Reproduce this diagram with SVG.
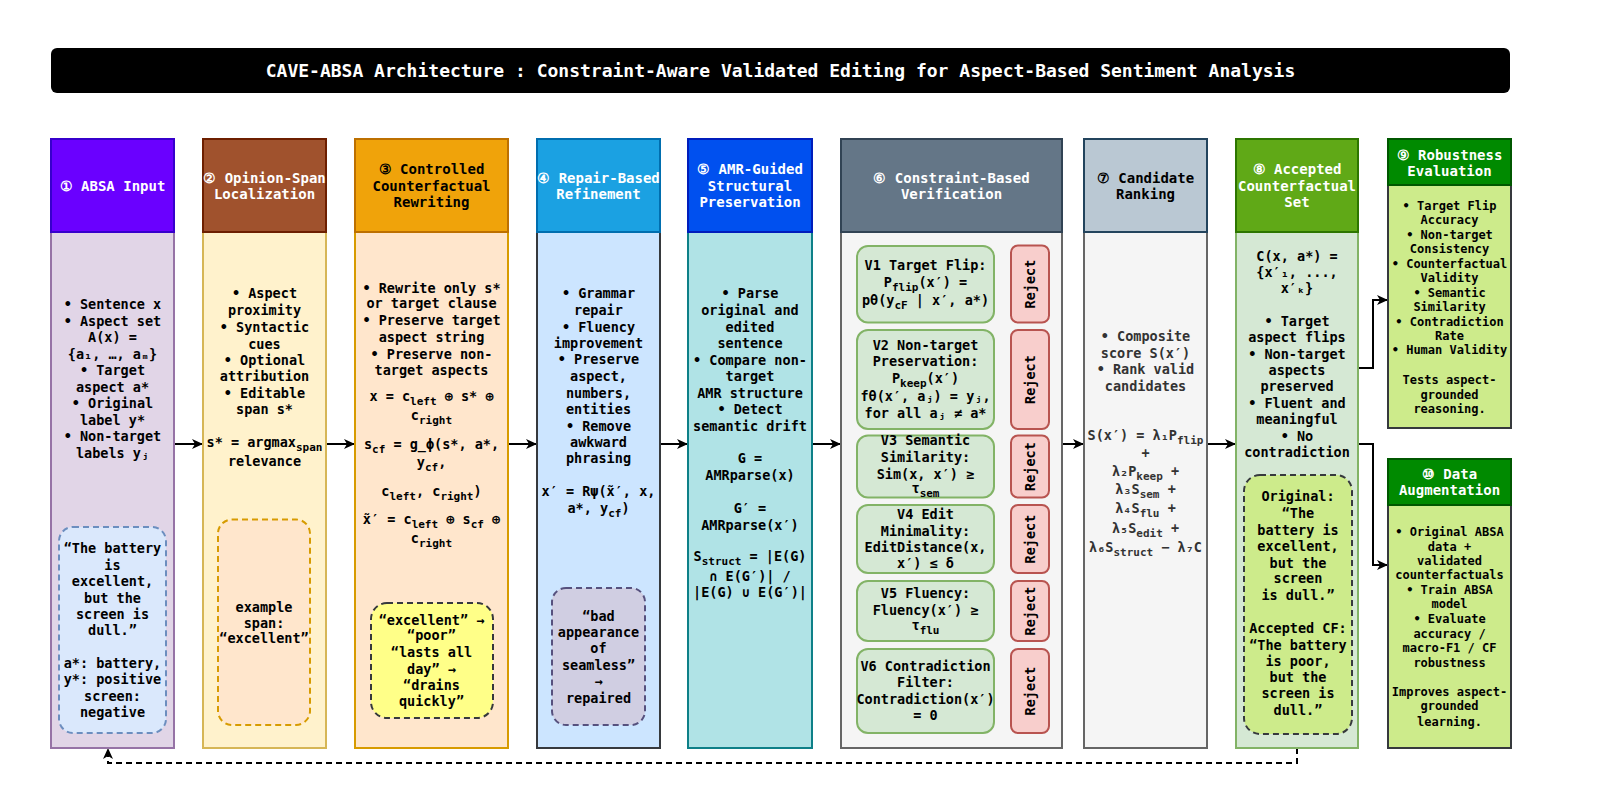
<svg xmlns="http://www.w3.org/2000/svg" width="1610" height="800" viewBox="0 0 1610 800">
<style>
text{font-family:"DejaVu Sans Mono","Liberation Mono",monospace;font-weight:bold;text-anchor:middle}
.t{font-size:13.5px;fill:#000}
.g{font-size:13.5px;fill:#333}
.h{font-size:14px;fill:#fff}
.hd{font-size:14px;fill:#000}
.s{font-size:12px;fill:#000}
.b{font-size:11px}
.ttl{font-size:18px;fill:#fff}
.hdr{stroke-width:2}
.bod{stroke-width:2}
.ex{stroke-width:2;stroke-dasharray:6 4}
.vb{fill:#d5e8d4;stroke:#82b366;stroke-width:2}
.rj{fill:#f8cecc;stroke:#b85450;stroke-width:2}
.ln{fill:none;stroke:#000;stroke-width:2}
.sl{fill:none;stroke:#000;stroke-width:1.5}
</style>
<defs>
<marker id="ah" markerUnits="userSpaceOnUse" markerWidth="12" markerHeight="10" refX="11" refY="5" orient="auto"><path d="M0,0 L11,5 L0,10 L3,5 z" fill="#000"/></marker>
<marker id="ahs" markerUnits="userSpaceOnUse" markerWidth="9" markerHeight="8" refX="8" refY="4" orient="auto"><path d="M0,0 L8,4 L0,8 L2,4 z" fill="#000"/></marker>
</defs>
<rect width="1610" height="800" fill="#fff"/>

<g id="title">
<rect x="51" y="48" width="1459" height="45" rx="6" fill="#000"/>
<text class="ttl" x="780.5" y="77">CAVE-ABSA Architecture : Constraint-Aware Validated Editing for Aspect-Based Sentiment Analysis</text>
</g>

<g id="connectors">
<line class="ln" x1="174" y1="444" x2="203" y2="444" marker-end="url(#ah)"/>
<line class="ln" x1="326" y1="444" x2="355" y2="444" marker-end="url(#ah)"/>
<line class="ln" x1="508" y1="444" x2="537" y2="444" marker-end="url(#ah)"/>
<line class="ln" x1="660" y1="444" x2="688" y2="444" marker-end="url(#ah)"/>
<line class="ln" x1="812" y1="444" x2="841" y2="444" marker-end="url(#ah)"/>
<line class="ln" x1="1062" y1="444" x2="1084" y2="444" marker-end="url(#ah)"/>
<line class="ln" x1="1207" y1="444" x2="1236" y2="444" marker-end="url(#ah)"/>
<path class="ln" d="M1358,368 H1373 V300 H1388" marker-end="url(#ah)"/>
<path class="ln" d="M1358,444 H1373 V565 H1388" marker-end="url(#ah)"/>
<path class="ln" d="M1297,748 V763 H108 V748" stroke-dasharray="6 4" marker-end="url(#ah)"/>
<path class="sl" d="M994,284 H1001 V265 H1011" marker-end="url(#ahs)"/>
<path class="sl" d="M994,379 H1001 V354.5 H1011" marker-end="url(#ahs)"/>
<path class="sl" d="M994,466.5 H1001 V451 H1011" marker-end="url(#ahs)"/>
<path class="sl" d="M994,539 H1001 V522 H1011" marker-end="url(#ahs)"/>
<path class="sl" d="M994,611 H1001 V596 H1011" marker-end="url(#ahs)"/>
<path class="sl" d="M994,691 H1001 V670 H1011" marker-end="url(#ahs)"/>
</g>

<g id="n1">
<rect class="bod" x="51" y="232" width="123" height="516" fill="#e1d5e7" stroke="#9673a6"/>
<rect class="hdr" x="51" y="139" width="123" height="93" fill="#6a00ff" stroke="#3700cc"/>
<text class="h" x="112.5" y="191">① ABSA Input</text>
<text class="t" x="112.5" y="309">• Sentence x</text>
<text class="t" x="112.5" y="325.5">• Aspect set</text>
<text class="t" x="112.5" y="342">A(x) =</text>
<text class="t" x="112.5" y="358.5">{a₁, …, aₘ}</text>
<text class="t" x="112.5" y="375">• Target</text>
<text class="t" x="112.5" y="391.5">aspect a*</text>
<text class="t" x="112.5" y="408">• Original</text>
<text class="t" x="112.5" y="424.5">label y*</text>
<text class="t" x="112.5" y="441">• Non-target</text>
<text class="t" x="112.5" y="457.5">labels yⱼ</text>
<rect class="ex" x="59" y="527" width="107" height="206" rx="14" fill="#dae8fc" stroke="#6c8ebf"/>
<text class="t" x="112.5" y="553">“The battery</text>
<text class="t" x="112.5" y="569.5">is</text>
<text class="t" x="112.5" y="586">excellent,</text>
<text class="t" x="112.5" y="602.5">but the</text>
<text class="t" x="112.5" y="618.5">screen is</text>
<text class="t" x="112.5" y="635">dull.”</text>
<text class="t" x="112.5" y="668">a*: battery,</text>
<text class="t" x="112.5" y="684">y*: positive</text>
<text class="t" x="112.5" y="700.5">screen:</text>
<text class="t" x="112.5" y="717">negative</text>
</g>

<g id="n2">
<rect class="bod" x="203" y="232" width="123" height="516" fill="#fff2cc" stroke="#d6b656"/>
<rect class="hdr" x="203" y="139" width="123" height="93" fill="#a0522d" stroke="#6d1f00"/>
<text class="h" x="264.5" y="182.5">② Opinion-Span</text>
<text class="h" x="264.5" y="199">Localization</text>
<text class="t" x="264.5" y="298">• Aspect</text>
<text class="t" x="264.5" y="315">proximity</text>
<text class="t" x="264.5" y="331.5">• Syntactic</text>
<text class="t" x="264.5" y="348.5">cues</text>
<text class="t" x="264.5" y="364.5">• Optional</text>
<text class="t" x="264.5" y="381">attribution</text>
<text class="t" x="264.5" y="397.5">• Editable</text>
<text class="t" x="264.5" y="414">span s*</text>
<text class="t" x="264.5" y="447">s* = argmax<tspan class="b" dy="4">span</tspan></text>
<text class="t" x="264.5" y="465.5">relevance</text>
<rect class="ex" x="218" y="519.5" width="92" height="205.5" rx="14" fill="#ffe6cc" stroke="#d79b00"/>
<text class="t" x="264" y="611.5">example</text>
<text class="t" x="264" y="628">span:</text>
<text class="t" x="264" y="643">“excellent”</text>
</g>

<g id="n3">
<rect class="bod" x="355" y="232" width="153" height="516" fill="#ffe6cc" stroke="#d79b00"/>
<rect class="hdr" x="355" y="139" width="153" height="93" fill="#f0a30a" stroke="#bd7000"/>
<text class="hd" x="431.5" y="174">③ Controlled</text>
<text class="hd" x="431.5" y="190.5">Counterfactual</text>
<text class="hd" x="431.5" y="207">Rewriting</text>
<text class="t" x="431.5" y="292.5">• Rewrite only s*</text>
<text class="t" x="431.5" y="308">or target clause</text>
<text class="t" x="431.5" y="325">• Preserve target</text>
<text class="t" x="431.5" y="342">aspect string</text>
<text class="t" x="431.5" y="358.5">• Preserve non-</text>
<text class="t" x="431.5" y="375">target aspects</text>
<text class="t" x="431.5" y="400.5">x = c<tspan class="b" dy="4">left</tspan><tspan dy="-4"> ⊕ s* ⊕</tspan></text>
<text class="t" x="431.5" y="420">c<tspan class="b" dy="4">right</tspan></text>
<text class="t" x="431.5" y="448.5">s<tspan class="b" dy="4">cf</tspan><tspan dy="-4"> = g_ϕ(s*, a*,</tspan></text>
<text class="t" x="431.5" y="467">y<tspan class="b" dy="4">cf</tspan><tspan dy="-4">,</tspan></text>
<text class="t" x="431.5" y="495.5">c<tspan class="b" dy="4">left</tspan><tspan dy="-4">, c</tspan><tspan class="b" dy="4">right</tspan><tspan dy="-4">)</tspan></text>
<text class="t" x="431.5" y="523.5">x̃′ = c<tspan class="b" dy="4">left</tspan><tspan dy="-4"> ⊕ s</tspan><tspan class="b" dy="4">cf</tspan><tspan dy="-4"> ⊕</tspan></text>
<text class="t" x="431.5" y="543">c<tspan class="b" dy="4">right</tspan></text>
<rect class="ex" x="371" y="603" width="122" height="115" rx="16" fill="#ffff88" stroke="#36393d"/>
<text class="t" x="431.5" y="625">“excellent” →</text>
<text class="t" x="431.5" y="640">“poor”</text>
<text class="t" x="431.5" y="657">“lasts all</text>
<text class="t" x="431.5" y="673.5">day” →</text>
<text class="t" x="431.5" y="689.5">“drains</text>
<text class="t" x="431.5" y="706">quickly”</text>
</g>

<g id="n4">
<rect class="bod" x="537" y="232" width="123" height="516" fill="#cce5ff" stroke="#36393d"/>
<rect class="hdr" x="537" y="139" width="123" height="93" fill="#1ba1e2" stroke="#006eaf"/>
<text class="h" x="598.5" y="182.5">④ Repair-Based</text>
<text class="h" x="598.5" y="199">Refinement</text>
<text class="t" x="598.5" y="298">• Grammar</text>
<text class="t" x="598.5" y="315">repair</text>
<text class="t" x="598.5" y="331.5">• Fluency</text>
<text class="t" x="598.5" y="348">improvement</text>
<text class="t" x="598.5" y="364">• Preserve</text>
<text class="t" x="598.5" y="381">aspect,</text>
<text class="t" x="598.5" y="397.5">numbers,</text>
<text class="t" x="598.5" y="414">entities</text>
<text class="t" x="598.5" y="430.5">• Remove</text>
<text class="t" x="598.5" y="446.5">awkward</text>
<text class="t" x="598.5" y="463">phrasing</text>
<text class="t" x="598.5" y="496">x′ = Rψ(x̃′, x,</text>
<text class="t" x="598.5" y="513">a*, y<tspan class="b" dy="4">cf</tspan><tspan dy="-4">)</tspan></text>
<rect class="ex" x="552" y="588" width="93" height="137" rx="14" fill="#d0cee2" stroke="#56517e"/>
<text class="t" x="598.5" y="620.5">“bad</text>
<text class="t" x="598.5" y="637">appearance</text>
<text class="t" x="598.5" y="653">of</text>
<text class="t" x="598.5" y="669.5">seamless”</text>
<text class="t" x="598.5" y="686">→</text>
<text class="t" x="598.5" y="702.5">repaired</text>
</g>

<g id="n5">
<rect class="bod" x="688" y="232" width="124" height="516" fill="#b0e3e6" stroke="#0e8088"/>
<rect class="hdr" x="688" y="139" width="124" height="93" fill="#0050ef" stroke="#001dbc"/>
<text class="h" x="750" y="174">⑤ AMR-Guided</text>
<text class="h" x="750" y="190.5">Structural</text>
<text class="h" x="750" y="207">Preservation</text>
<text class="t" x="750" y="298">• Parse</text>
<text class="t" x="750" y="315">original and</text>
<text class="t" x="750" y="331.5">edited</text>
<text class="t" x="750" y="348">sentence</text>
<text class="t" x="750" y="364.5">• Compare non-</text>
<text class="t" x="750" y="381">target</text>
<text class="t" x="750" y="397.5">AMR structure</text>
<text class="t" x="750" y="414">• Detect</text>
<text class="t" x="750" y="430.5">semantic drift</text>
<text class="t" x="750" y="463">G =</text>
<text class="t" x="750" y="479.5">AMRparse(x)</text>
<text class="t" x="750" y="513">G′ =</text>
<text class="t" x="750" y="529.5">AMRparse(x′)</text>
<text class="t" x="750" y="561">S<tspan class="b" dy="4">struct</tspan><tspan dy="-4"> = |E(G)</tspan></text>
<text class="t" x="750" y="580.5">∩ E(G′)| /</text>
<text class="t" x="750" y="597">|E(G) ∪ E(G′)|</text>
</g>

<g id="n6">
<rect class="bod" x="841" y="232" width="221" height="516" fill="#f5f5f5" stroke="#666666"/>
<rect class="hdr" x="841" y="139" width="221" height="93" fill="#647687" stroke="#314354"/>
<text class="h" x="951.5" y="182.5">⑥ Constraint-Based</text>
<text class="h" x="951.5" y="199">Verification</text>
</g>

<g id="v1">
<rect class="vb" x="857" y="246" width="137" height="76.5" rx="11"/>
<text class="t" x="925.5" y="270">V1 Target Flip:</text>
<text class="t" x="925.5" y="287">P<tspan class="b" dy="4">flip</tspan><tspan dy="-4">(x′) =</tspan></text>
<text class="t" x="925.5" y="304.5">pθ(y<tspan class="b" dy="4">cF</tspan><tspan dy="-4"> | x′, a*)</tspan></text>
</g>
<g id="r1">
<rect class="rj" x="1011" y="245.5" width="38" height="77" rx="7"/>
<text class="t" x="1030" y="288.5" transform="rotate(-90 1030 284)">Reject</text>
</g>

<g id="v2">
<rect class="vb" x="857" y="330" width="137" height="99" rx="11"/>
<text class="t" x="925.5" y="350">V2 Non-target</text>
<text class="t" x="925.5" y="366">Preservation:</text>
<text class="t" x="925.5" y="383">P<tspan class="b" dy="4">keep</tspan><tspan dy="-4">(x′)</tspan></text>
<text class="t" x="925.5" y="401">fθ(x′, aⱼ) = yⱼ,</text>
<text class="t" x="925.5" y="418">for all aⱼ ≠ a*</text>
</g>
<g id="r2">
<rect class="rj" x="1011" y="330" width="38" height="99" rx="7"/>
<text class="t" x="1030" y="384" transform="rotate(-90 1030 379.5)">Reject</text>
</g>

<g id="v3">
<rect class="vb" x="857" y="435.5" width="137" height="62" rx="11"/>
<text class="t" x="925.5" y="445">V3 Semantic</text>
<text class="t" x="925.5" y="462">Similarity:</text>
<text class="t" x="925.5" y="478.5">Sim(x, x′) ≥</text>
<text class="t" x="925.5" y="493">τ<tspan class="b" dy="4">sem</tspan></text>
</g>
<g id="r3">
<rect class="rj" x="1011" y="435.5" width="38" height="62" rx="7"/>
<text class="t" x="1030" y="471" transform="rotate(-90 1030 466.5)">Reject</text>
</g>

<g id="v4">
<rect class="vb" x="857" y="505" width="137" height="68" rx="11"/>
<text class="t" x="925.5" y="518.5">V4 Edit</text>
<text class="t" x="925.5" y="535.5">Minimality:</text>
<text class="t" x="925.5" y="551.5">EditDistance(x,</text>
<text class="t" x="925.5" y="567.5">x′) ≤ δ</text>
</g>
<g id="r4">
<rect class="rj" x="1011" y="505" width="38" height="68" rx="7"/>
<text class="t" x="1030" y="543.5" transform="rotate(-90 1030 539)">Reject</text>
</g>

<g id="v5">
<rect class="vb" x="857" y="581" width="137" height="60" rx="11"/>
<text class="t" x="925.5" y="597.5">V5 Fluency:</text>
<text class="t" x="925.5" y="615">Fluency(x′) ≥</text>
<text class="t" x="925.5" y="630">τ<tspan class="b" dy="4">flu</tspan></text>
</g>
<g id="r5">
<rect class="rj" x="1011" y="581" width="38" height="60" rx="7"/>
<text class="t" x="1030" y="615.5" transform="rotate(-90 1030 611)">Reject</text>
</g>

<g id="v6">
<rect class="vb" x="857" y="649" width="137" height="84" rx="11"/>
<text class="t" x="925.5" y="670.5">V6 Contradiction</text>
<text class="t" x="925.5" y="687">Filter:</text>
<text class="t" x="925.5" y="704">Contradiction(x′)</text>
<text class="t" x="925.5" y="720">= 0</text>
</g>
<g id="r6">
<rect class="rj" x="1011" y="649" width="38" height="84" rx="7"/>
<text class="t" x="1030" y="695.5" transform="rotate(-90 1030 691)">Reject</text>
</g>

<g id="n7">
<rect class="bod" x="1084" y="232" width="123" height="516" fill="#f5f5f5" stroke="#666666"/>
<rect class="hdr" x="1084" y="139" width="123" height="93" fill="#bac8d3" stroke="#23445d"/>
<text class="hd" x="1145.5" y="182.5">⑦ Candidate</text>
<text class="hd" x="1145.5" y="199">Ranking</text>
<text class="g" x="1145.5" y="340.5">• Composite</text>
<text class="g" x="1145.5" y="357.5">score S(x′)</text>
<text class="g" x="1145.5" y="373.5">• Rank valid</text>
<text class="g" x="1145.5" y="390.5">candidates</text>
<text class="g" x="1145.5" y="440">S(x′) = λ₁P<tspan class="b" dy="4">flip</tspan></text>
<text class="g" x="1145.5" y="458">+</text>
<text class="g" x="1145.5" y="475.5">λ₂P<tspan class="b" dy="4">keep</tspan><tspan dy="-4"> +</tspan></text>
<text class="g" x="1145.5" y="494">λ₃S<tspan class="b" dy="4">sem</tspan><tspan dy="-4"> +</tspan></text>
<text class="g" x="1145.5" y="513">λ₄S<tspan class="b" dy="4">flu</tspan><tspan dy="-4"> +</tspan></text>
<text class="g" x="1145.5" y="532.5">λ₅S<tspan class="b" dy="4">edit</tspan><tspan dy="-4"> +</tspan></text>
<text class="g" x="1145.5" y="552">λ₆S<tspan class="b" dy="4">struct</tspan><tspan dy="-4"> − λ₇C</tspan></text>
</g>

<g id="n8">
<rect class="bod" x="1236" y="232" width="122" height="516" fill="#d5e8d4" stroke="#82b366"/>
<rect class="hdr" x="1236" y="139" width="122" height="93" fill="#60a917" stroke="#2d7600"/>
<text class="h" x="1297" y="174">⑧ Accepted</text>
<text class="h" x="1297" y="190.5">Counterfactual</text>
<text class="h" x="1297" y="207">Set</text>
<text class="t" x="1297" y="260.5">C(x, a*) =</text>
<text class="t" x="1297" y="277">{x′₁, ...,</text>
<text class="t" x="1297" y="293">x′ₖ}</text>
<text class="t" x="1297" y="326">• Target</text>
<text class="t" x="1297" y="342">aspect flips</text>
<text class="t" x="1297" y="358.5">• Non-target</text>
<text class="t" x="1297" y="375">aspects</text>
<text class="t" x="1297" y="391">preserved</text>
<text class="t" x="1297" y="408">• Fluent and</text>
<text class="t" x="1297" y="424">meaningful</text>
<text class="t" x="1297" y="441">• No</text>
<text class="t" x="1297" y="457">contradiction</text>
<rect class="ex" x="1244" y="475" width="108" height="259" rx="16" fill="#cdeb8b" stroke="#36393d"/>
<text class="t" x="1298" y="500.5">Original:</text>
<text class="t" x="1298" y="517.5">“The</text>
<text class="t" x="1298" y="534.5">battery is</text>
<text class="t" x="1298" y="550.5">excellent,</text>
<text class="t" x="1298" y="567.5">but the</text>
<text class="t" x="1298" y="583">screen</text>
<text class="t" x="1298" y="599.5">is dull.”</text>
<text class="t" x="1298" y="633">Accepted CF:</text>
<text class="t" x="1298" y="649.5">“The battery</text>
<text class="t" x="1298" y="665.5">is poor,</text>
<text class="t" x="1298" y="681.5">but the</text>
<text class="t" x="1298" y="697.5">screen is</text>
<text class="t" x="1298" y="714.5">dull.”</text>
</g>

<g id="n9">
<rect class="bod" x="1388" y="185" width="123" height="243" fill="#cdeb8b" stroke="#36393d"/>
<rect class="hdr" x="1388" y="139" width="123" height="46" fill="#008a00" stroke="#005700"/>
<text class="h" x="1449.5" y="160">⑨ Robustness</text>
<text class="h" x="1449.5" y="175.5">Evaluation</text>
<text class="s" x="1449.5" y="209.5">• Target Flip</text>
<text class="s" x="1449.5" y="224">Accuracy</text>
<text class="s" x="1449.5" y="238.5">• Non-target</text>
<text class="s" x="1449.5" y="253">Consistency</text>
<text class="s" x="1449.5" y="267.5">• Counterfactual</text>
<text class="s" x="1449.5" y="282">Validity</text>
<text class="s" x="1449.5" y="296.5">• Semantic</text>
<text class="s" x="1449.5" y="311">Similarity</text>
<text class="s" x="1449.5" y="325.5">• Contradiction</text>
<text class="s" x="1449.5" y="340">Rate</text>
<text class="s" x="1449.5" y="354">• Human Validity</text>
<text class="s" x="1449.5" y="383.5">Tests aspect-</text>
<text class="s" x="1449.5" y="398.5">grounded</text>
<text class="s" x="1449.5" y="413">reasoning.</text>
</g>

<g id="n10">
<rect class="bod" x="1388" y="505" width="123" height="243" fill="#cdeb8b" stroke="#36393d"/>
<rect class="hdr" x="1388" y="459" width="123" height="46" fill="#008a00" stroke="#005700"/>
<text class="h" x="1449.5" y="479">⑩ Data</text>
<text class="h" x="1449.5" y="495">Augmentation</text>
<text class="s" x="1449.5" y="535.5">• Original ABSA</text>
<text class="s" x="1449.5" y="550.5">data +</text>
<text class="s" x="1449.5" y="564.5">validated</text>
<text class="s" x="1449.5" y="579">counterfactuals</text>
<text class="s" x="1449.5" y="594">• Train ABSA</text>
<text class="s" x="1449.5" y="608">model</text>
<text class="s" x="1449.5" y="622.5">• Evaluate</text>
<text class="s" x="1449.5" y="637.5">accuracy /</text>
<text class="s" x="1449.5" y="652">macro-F1 / CF</text>
<text class="s" x="1449.5" y="666.5">robustness</text>
<text class="s" x="1449.5" y="696">Improves aspect-</text>
<text class="s" x="1449.5" y="710">grounded</text>
<text class="s" x="1449.5" y="725.5">learning.</text>
</g>
</svg>
